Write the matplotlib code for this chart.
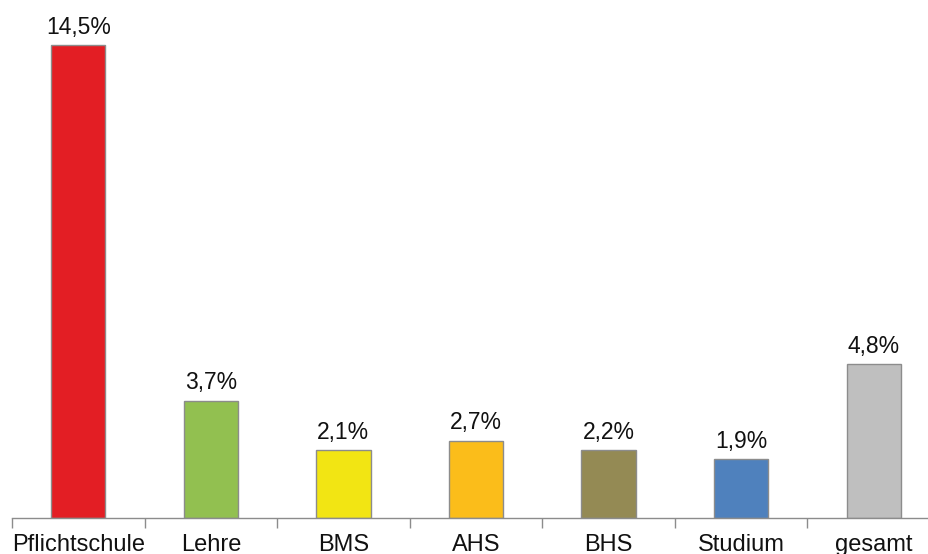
import matplotlib
matplotlib.use("Agg")
import matplotlib.pyplot as plt
import numpy as np

categories = ["Pflichtschule", "Lehre", "BMS", "AHS", "BHS", "Studium", "gesamt"]
values = [14.5, 3.7, 2.1, 2.7, 2.2, 1.9, 4.8]
# bar heights as drawn in the picture (the picture's bars are not exactly proportional to the labels)
bar_heights = [14.5, 3.59, 2.07, 2.36, 2.07, 1.79, 4.71]
labels = ["14,5%", "3,7%", "2,1%", "2,7%", "2,2%", "1,9%", "4,8%"]
colors = ["#E31E24", "#92C050", "#F2E513", "#FBBD1A", "#948A54", "#4F81BD", "#BFBFBF"]

plt.rcParams['font.family'] = ['Liberation Sans', 'DejaVu Sans']

W, H = 929, 554
fig = plt.figure(figsize=(W/100, H/100), dpi=100)
ppu = 472.5 / 14.5
ymax = 15.4
ax = fig.add_axes([12/W, 36.5/H, 928/W, ymax*ppu/H])
x = np.arange(len(categories))
ax.bar(x, bar_heights, width=0.41, color=colors, edgecolor="#8C8C8C", linewidth=1.0, zorder=2)
for xi, h, lab in zip(x, bar_heights, labels):
    ax.annotate(lab, (xi, h), xytext=(0, 4.5), textcoords="offset points",
                ha="center", va="bottom", fontsize=16.5, color="#111111", annotation_clip=False)
ax.set_xlim(-0.5, 6.5)
ax.set_ylim(0, ymax)
for s in ["top", "right", "left"]:
    ax.spines[s].set_visible(False)
ax.spines["bottom"].set_color("#8C8C8C")
ax.spines["bottom"].set_linewidth(1.0)
ax.set_yticks([])
ax.set_xticks(x)
ax.set_xticklabels(categories, fontsize=17, color="#111111")
ax.tick_params(axis="x", which="major", length=0, pad=12)
ax.set_xticks(np.arange(-0.5, 7.0, 1.0), minor=True)
ax.tick_params(axis="x", which="minor", length=7, width=1.0, color="#8C8C8C", direction="out")
fig.savefig("out.png", dpi=100)
